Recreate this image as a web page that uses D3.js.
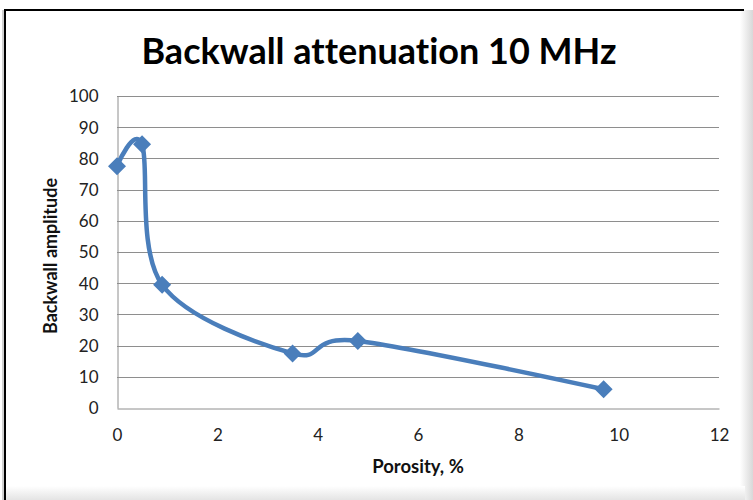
<!DOCTYPE html>
<html>
<head>
<meta charset="utf-8">
<script src="https://cdn.jsdelivr.net/npm/d3@7"></script>
<style>
  body { margin:0; background:#fff; }
  svg { display:block; }
  text { font-variant-ligatures: none; }
</style>
</head>
<body>
<div id="chart"></div>
<script>
// porosity (%) vs backwall amplitude
var porosity = [0, 0.5, 0.9, 3.5, 4.8, 9.7];
var amplitude = [77.5, 84.5, 39.5, 17.5, 21.5, 6];
var xTicks = [0, 2, 4, 6, 8, 10, 12];
var yTicks = [0, 10, 20, 30, 40, 50, 60, 70, 80, 90, 100];

function init(){
    var w = 753;
    var h = 500;
    var blue = "#4a7ebb";
    var font = "Lato, 'Open Sans', sans-serif";

    var svg = d3.select("#chart")
                .append("svg")
                .attr("width", w)
                .attr("height", h);

    var defs = svg.append("defs");
    var gr = defs.append("linearGradient").attr("id", "shadeR");
    gr.append("stop").attr("offset", "0%").attr("stop-color", "#fff");
    gr.append("stop").attr("offset", "100%").attr("stop-color", "#d8d8d8");
    var gb = defs.append("linearGradient").attr("id", "shadeB")
                 .attr("x1", 0).attr("y1", 0).attr("x2", 0).attr("y2", 1);
    gb.append("stop").attr("offset", "0%").attr("stop-color", "#fff");
    gb.append("stop").attr("offset", "100%").attr("stop-color", "#e4e4e4");

    svg.append("rect").attr("width", w).attr("height", h).attr("fill", "#fff");
    // frame shadow on right / bottom like the screenshot
    svg.append("rect").attr("x", 740).attr("y", 10).attr("width", 13).attr("height", 490)
       .attr("fill", "url(#shadeR)");
    svg.append("rect").attr("x", 5).attr("y", 486).attr("width", 740).attr("height", 14)
       .attr("fill", "url(#shadeB)");
    svg.append("rect").attr("x", 2).attr("y", 10).attr("width", 2).attr("height", 490)
       .attr("fill", "#d0d0d0");
    // frame top/left
    svg.append("line").attr("x1", 5).attr("y1", 10).attr("x2", 744).attr("y2", 10)
       .attr("stroke", "#000").attr("stroke-width", 2);
    svg.append("line").attr("x1", 5).attr("y1", 9).attr("x2", 5).attr("y2", 500)
       .attr("stroke", "#000").attr("stroke-width", 2);

    var x = d3.scaleLinear().domain([0, 12]).range([117, 719]);
    var y = d3.scaleLinear().domain([0, 100]).range([408, 96]);

    // gridlines
    svg.append("g")
       .selectAll("line")
       .data(yTicks.slice(1))
       .enter()
       .append("line")
       .attr("x1", x(0)).attr("x2", x(12))
       .attr("y1", function(d){ return Math.round(y(d)) + 0.5; })
       .attr("y2", function(d){ return Math.round(y(d)) + 0.5; })
       .attr("stroke", "#8e8e8e")
       .attr("stroke-width", 1);

    var xAxis = svg.append("g")
                   .attr("transform", "translate(0," + (Math.round(y(0)) + 0.5) + ")")
                   .call(d3.axisBottom(x).tickValues(xTicks).tickSize(0).tickPadding(20));
    var yAxis = svg.append("g")
                   .attr("transform", "translate(" + (Math.round(x(0)) + 0.5) + ",0)")
                   .call(d3.axisLeft(y).tickValues(yTicks).tickSize(0).tickPadding(19));

    [xAxis, yAxis].forEach(function(a){
        a.select(".domain").attr("stroke", "#8e8e8e").attr("stroke-width", 1);
        a.selectAll("text")
         .attr("fill", "#222")
         .style("font-family", font)
         .style("font-size", "17px");
    });
    yAxis.selectAll("text").attr("dy", "0.35em");

    // title
    svg.append("text")
       .attr("x", 379)
       .attr("y", 64)
       .attr("text-anchor", "middle")
       .style("font-family", font)
       .style("font-weight", "bold")
       .style("font-size", "36px")
       .attr("fill", "#000")
       .text("Backwall attenuation 10 MHz");

    svg.append("text")
       .attr("x", 418)
       .attr("y", 473)
       .attr("text-anchor", "middle")
       .style("font-family", font)
       .style("font-weight", "bold")
       .style("font-size", "18.5px")
       .attr("fill", "#111")
       .text("Porosity, %");

    svg.append("text")
       .attr("transform", "translate(57,256) rotate(-90)")
       .attr("text-anchor", "middle")
       .style("font-family", font)
       .style("font-weight", "bold")
       .style("font-size", "18px")
       .attr("fill", "#111")
       .text("Backwall amplitude");

    var pts = porosity.map(function(p, i){ return [p, amplitude[i]]; });

    var line = d3.line()
                 .x(function(d){ return x(d[0]); })
                 .y(function(d){ return y(d[1]); })
                 .curve(d3.curveCardinal.tension(0));

    svg.append("path")
       .datum(pts)
       .attr("d", line)
       .attr("fill", "none")
       .attr("stroke", blue)
       .attr("stroke-width", 4.5)
       .attr("stroke-linejoin", "round");

    svg.append("g")
       .selectAll("path")
       .data(pts)
       .enter()
       .append("path")
       .attr("transform", function(d){ return "translate(" + x(d[0]) + "," + y(d[1]) + ")"; })
       .attr("d", "M0,-9L9,0L0,9L-9,0Z")
       .attr("fill", blue);
}

window.onload = init;
</script>
</body>
</html>
